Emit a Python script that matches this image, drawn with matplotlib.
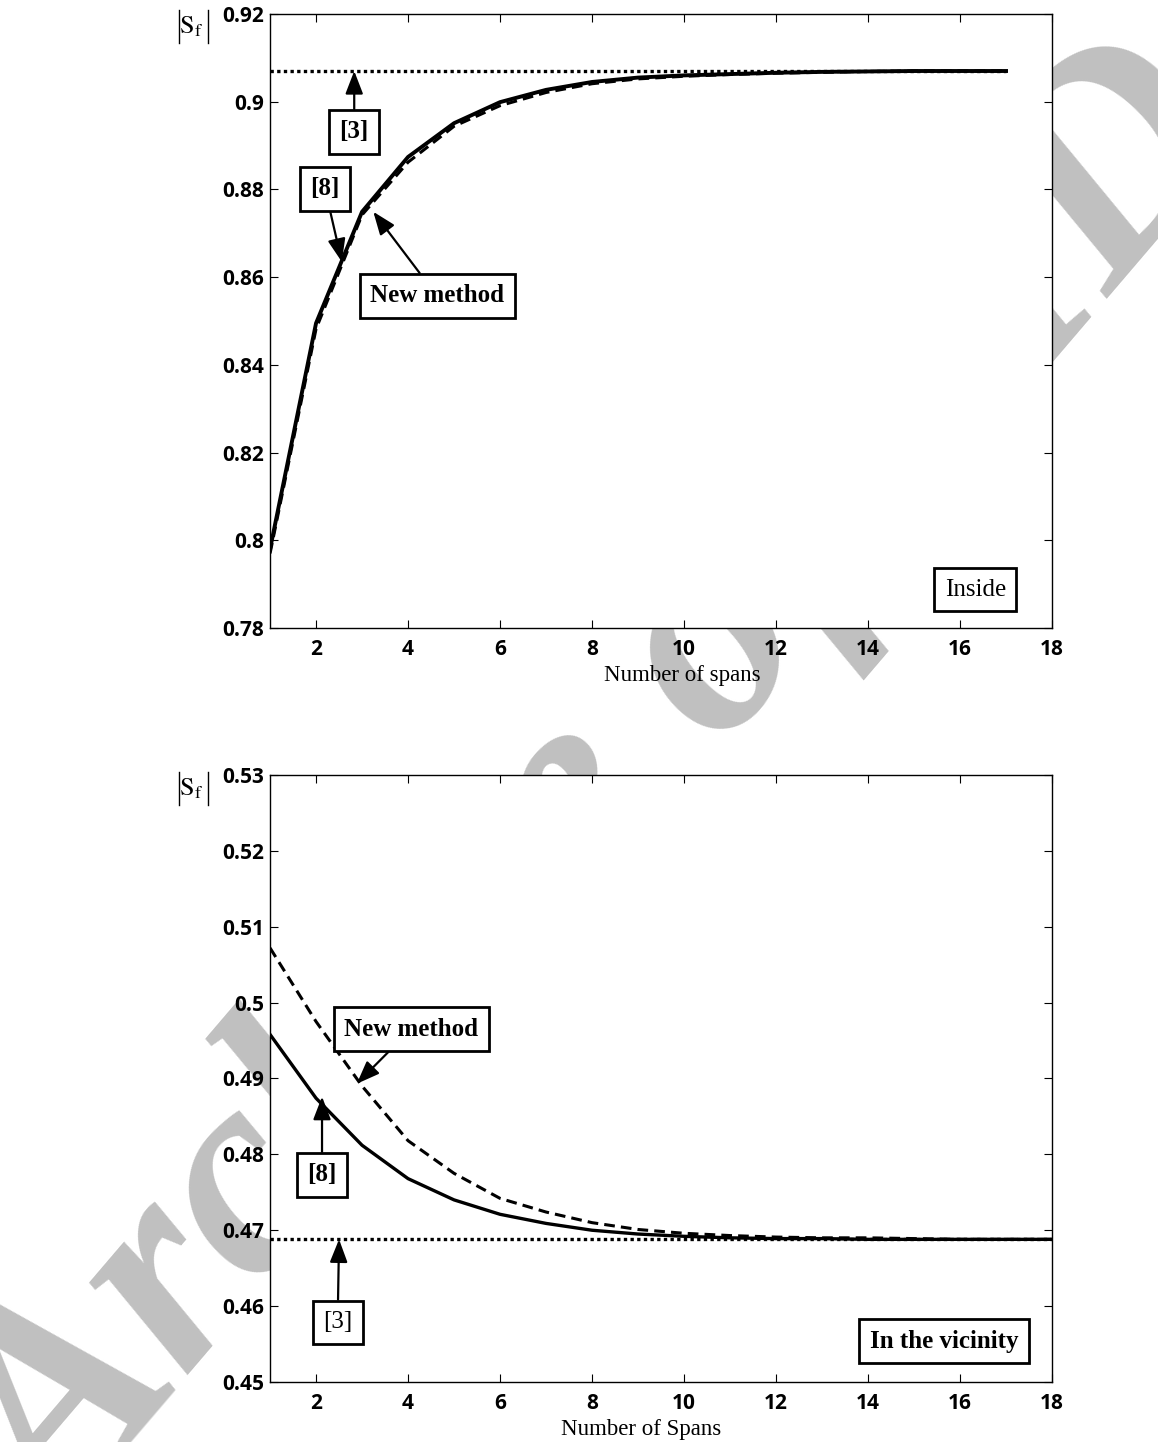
import matplotlib
matplotlib.use('Agg')
import matplotlib.pyplot as plt
from matplotlib.lines import Line2D

plt.rcParams['mathtext.fontset'] = 'stix'

# ---- data: inside the array (top panel)
spans_in = list(range(1, 18))
ref3_in = [0.907] * 17
ref8_in = [0.798, 0.8495, 0.8749, 0.8874, 0.8951, 0.8999, 0.9027, 0.9045, 0.9055,
           0.9060, 0.9063, 0.9066, 0.9068, 0.9069, 0.9070, 0.9070, 0.9070]
new_in = [0.797, 0.8482, 0.8742, 0.8862, 0.8944, 0.8991, 0.9021, 0.9041, 0.9052,
          0.9058, 0.9062, 0.9065, 0.9067, 0.9069, 0.9070, 0.9070, 0.9070]

# ---- data: in the vicinity (bottom panel)
spans_vi = list(range(1, 19))
ref3_vi = [0.4688] * 18
ref8_vi = [0.4958, 0.4874, 0.4812, 0.4768, 0.4740, 0.4721, 0.4709, 0.4700, 0.4695,
           0.4692, 0.4690, 0.4689, 0.4689, 0.4688, 0.4688, 0.4688, 0.4688, 0.4688]
new_vi = [0.5072, 0.4975, 0.4890, 0.4818, 0.4775, 0.4742, 0.4724, 0.4710, 0.4701,
          0.4696, 0.4693, 0.4691, 0.4690, 0.4690, 0.4689, 0.4688, 0.4688, 0.4688]

yticks_in = [0.78, 0.8, 0.82, 0.84, 0.86, 0.88, 0.9, 0.92]
yticks_vi = [0.45, 0.46, 0.47, 0.48, 0.49, 0.5, 0.51, 0.52, 0.53]
xticks = [2, 4, 6, 8, 10, 12, 14, 16, 18]

W, H = 1158, 1442
fig = plt.figure(figsize=(W / 100, H / 100), dpi=100)

# watermark behind the axes
fig.text(0.52, 0.448, 'Archive of SID', fontsize=212, color='#c0c0c0',
         family='Liberation Serif', weight='bold', style='italic',
         rotation=49.5, ha='center', va='center', zorder=-5)

ax1 = fig.add_axes([0.2332, 0.5645, 0.6753, 0.4258])
ax2 = fig.add_axes([0.2332, 0.0416, 0.6753, 0.4210])

serif = 'Liberation Serif'
box = dict(boxstyle='square,pad=0.42', fc='white', ec='black', lw=2.0)
arrow = dict(arrowstyle='-|>,head_length=0.7,head_width=0.27', color='black',
             lw=1.6, mutation_scale=20, shrinkA=0, shrinkB=0)
fs = 18


def style(ax, yticks):
    ax.set_xlim(1, 18)
    ax.set_ylim(yticks[0], yticks[-1])
    ax.set_xticks(xticks)
    ax.set_yticks(yticks)
    ax.set_yticklabels([('%g' % v) for v in yticks])
    ax.tick_params(direction='in', length=6, width=0.8, top=True, right=True,
                   labelsize=15)
    ax.tick_params(axis='x', pad=8)
    ax.tick_params(axis='y', pad=4)
    for lab in ax.get_xticklabels() + ax.get_yticklabels():
        lab.set_family('Open Sans')
        lab.set_weight('bold')
    for s in ax.spines.values():
        s.set_linewidth(1.0)


def sf_label(ytop):
    # |S_f| : symbol as text, the two bars as thin lines
    fig.text(191 / W, 1 - (ytop + 16) / H, r'$\mathrm{S}_{\mathrm{f}}$',
             fontsize=19, ha='center', va='center')
    for xp in (179, 208):
        fig.add_artist(Line2D([xp / W, xp / W], [1 - ytop / H, 1 - (ytop + 33) / H],
                              transform=fig.transFigure, color='black', lw=1.0))


# ---- top panel
ax1.plot(spans_in, ref3_in, color='black', lw=2.4, ls=(0, (1, 1)))
ax1.plot(spans_in, ref8_in, color='black', lw=2.8, ls='-')
ax1.plot(spans_in, new_in, color='black', lw=2.2, ls=(0, (3.5, 2)))
style(ax1, yticks_in)

ax1.annotate('[3]', xy=(2.83, 0.907), xytext=(2.83, 0.8931), fontsize=fs,
             family=serif, weight='bold', ha='center', va='center',
             bbox=box, arrowprops=arrow)
ax1.annotate('[8]', xy=(2.56, 0.8635), xytext=(2.196, 0.8801), fontsize=fs,
             family=serif, weight='bold', ha='center', va='center',
             bbox=box, arrowprops=arrow)
ax1.annotate('New method', xy=(3.245, 0.8749), xytext=(4.63, 0.8557), fontsize=fs,
             family=serif, weight='bold', ha='center', va='center',
             bbox=box, arrowprops=arrow)
ax1.text(16.33, 0.7887, 'Inside', fontsize=fs, family=serif, ha='center',
         va='center', bbox=box)

# ---- bottom panel
ax2.plot(spans_vi, ref3_vi, color='black', lw=2.4, ls=(0, (1, 1)))
ax2.plot(spans_vi, ref8_vi, color='black', lw=2.4, ls='-')
ax2.plot(spans_vi, new_vi, color='black', lw=2.2, ls=(0, (3.5, 2)))
style(ax2, yticks_vi)

ax2.annotate('New method', xy=(2.885, 0.4893), xytext=(4.065, 0.4965), fontsize=fs,
             family=serif, weight='bold', ha='center', va='center',
             bbox=box, arrowprops=arrow)
ax2.annotate('[8]', xy=(2.13, 0.4876), xytext=(2.13, 0.4773), fontsize=fs,
             family=serif, weight='bold', ha='center', va='center',
             bbox=box, arrowprops=arrow)
ax2.annotate('[3]', xy=(2.5, 0.4688), xytext=(2.47, 0.4579), fontsize=fs,
             family=serif, ha='center', va='center',
             bbox=box, arrowprops=arrow)
ax2.text(15.65, 0.4554, 'In the vicinity', fontsize=fs, family=serif,
         weight='bold', ha='center', va='center', bbox=box)

# axis labels
fig.text(0.589, 1 - 675 / H, 'Number of spans', fontsize=16.5, family=serif,
         ha='center', va='center')
fig.text(0.5535, 1 - 1430 / H, 'Number of Spans', fontsize=16.5, family=serif,
         ha='center', va='center')
sf_label(10)
sf_label(772)

fig.savefig('out.png', dpi=100, facecolor='white')
